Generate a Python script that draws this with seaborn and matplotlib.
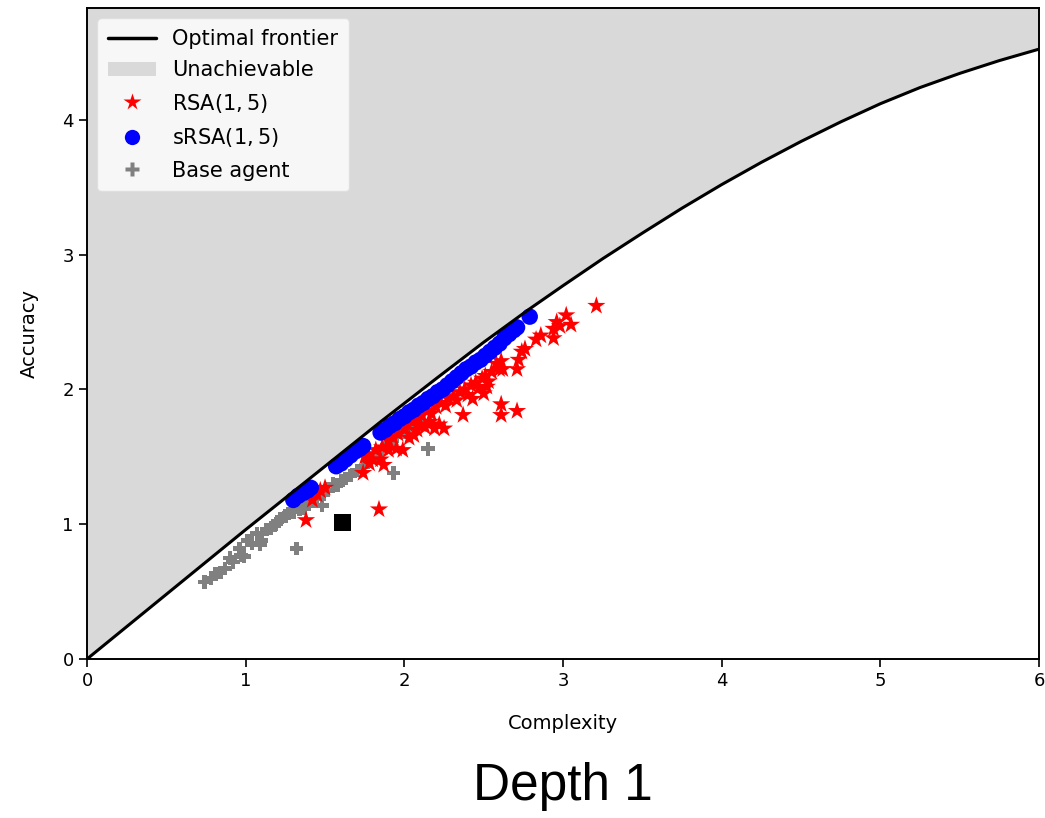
import matplotlib
matplotlib.use("Agg")
import matplotlib.pyplot as plt
import seaborn as sns
from matplotlib.lines import Line2D
from matplotlib.patches import Patch

# optimal frontier
frontier_x = [0, 0.5, 1.0, 1.5, 1.85, 2.2, 2.5, 2.78, 3.0, 3.25, 3.5, 3.75, 4.0, 4.25,
              4.5, 4.75, 5.0, 5.25, 5.5, 5.75, 6.0]
frontier_y = [0, 0.48, 0.96, 1.43, 1.76, 2.08, 2.35, 2.59, 2.77, 2.97, 3.16, 3.345, 3.52,
              3.685, 3.84, 3.985, 4.12, 4.24, 4.345, 4.44, 4.525]

# RSA(1,5)
rsa_x = [1.38, 1.42, 1.45, 1.47, 1.50, 1.74, 1.78, 1.80, 1.84, 1.85, 1.87, 1.90, 1.95, 1.99,
         2.03, 2.06, 2.08, 2.10, 2.13, 2.16, 2.19, 2.22, 2.25, 2.37, 2.61, 2.61, 2.71,
         1.75, 1.77, 1.82, 1.86, 1.90, 1.93, 1.96, 2.00, 2.02, 2.05, 2.08, 2.11, 2.14, 2.17,
         2.20, 2.23, 2.26, 2.28, 2.31, 2.33, 2.35, 2.38, 2.40, 2.42, 2.45, 2.47, 2.49, 2.51,
         2.53, 2.55, 2.50, 2.43, 2.52, 2.58, 2.60, 2.61, 2.62, 2.71, 2.72, 2.74, 2.76, 2.83,
         2.86, 2.94, 2.94, 2.96, 2.98, 3.02, 3.05, 3.21]
rsa_y = [1.03, 1.18, 1.22, 1.25, 1.27, 1.38, 1.45, 1.48, 1.11, 1.48, 1.44, 1.55, 1.56, 1.55,
         1.64, 1.66, 1.70, 1.74, 1.72, 1.76, 1.71, 1.74, 1.71, 1.81, 1.89, 1.81, 1.84,
         1.50, 1.52, 1.55, 1.57, 1.62, 1.64, 1.67, 1.70, 1.74, 1.76, 1.78, 1.81, 1.84, 1.82,
         1.87, 1.90, 1.88, 1.93, 1.95, 1.92, 1.98, 2.00, 1.96, 2.03, 2.05, 2.01, 2.08, 2.10,
         2.06, 2.13, 1.97, 1.93, 2.02, 2.19, 2.15, 2.21, 2.15, 2.15, 2.22, 2.28, 2.30, 2.37,
         2.40, 2.38, 2.45, 2.50, 2.47, 2.55, 2.48, 2.62]

# sRSA(1,5)
srsa_x = [1.30, 1.33, 1.36, 1.39, 1.41,
          1.57, 1.60, 1.63, 1.66, 1.69, 1.72, 1.74,
          1.85, 1.88, 1.91, 1.94, 1.97, 2.00, 2.03, 2.06, 2.09, 2.12, 2.15, 2.18, 2.21,
          2.24, 2.27, 2.30, 2.33, 2.36, 2.39, 2.42, 2.45, 2.48, 2.51, 2.54, 2.57, 2.60,
          2.63, 2.66, 2.69, 2.71, 2.79]
srsa_y = [1.18, 1.21, 1.23, 1.25, 1.27,
          1.43, 1.45, 1.48, 1.51, 1.54, 1.56, 1.58,
          1.68, 1.70, 1.73, 1.75, 1.78, 1.80, 1.83, 1.85, 1.88, 1.90, 1.93, 1.95, 1.98,
          2.00, 2.03, 2.06, 2.09, 2.12, 2.15, 2.17, 2.20, 2.22, 2.25, 2.28, 2.31, 2.34,
          2.38, 2.41, 2.44, 2.46, 2.54]

# Base agent
base_x = [0.74, 0.78, 0.81, 0.84, 0.87, 0.90, 0.92, 0.96, 0.97, 0.99, 1.01, 1.04, 1.07,
          1.09, 1.10, 1.13, 1.16, 1.18, 1.20, 1.22, 1.25, 1.27, 1.30, 1.32, 1.34, 1.37,
          1.40, 1.42, 1.45, 1.48, 1.49, 1.52, 1.55, 1.58, 1.60, 1.63, 1.66, 1.70, 1.74,
          1.78, 1.82, 1.86, 1.90, 1.93, 1.95, 2.00, 2.05, 2.10, 2.15]
base_y = [0.57, 0.60, 0.63, 0.64, 0.67, 0.75, 0.72, 0.82, 0.77, 0.76, 0.88, 0.86, 0.93,
          0.85, 0.88, 0.96, 0.97, 0.99, 1.02, 1.04, 1.06, 1.08, 1.09, 0.82, 1.11, 1.12,
          1.15, 1.17, 1.19, 1.14, 1.22, 1.25, 1.30, 1.29, 1.32, 1.34, 1.36, 1.40, 1.43,
          1.47, 1.50, 1.55, 1.60, 1.38, 1.65, 1.68, 1.72, 1.76, 1.56]

# black square
square_x = [1.61]
square_y = [1.01]

y_top = 4.83

sns.set_style("ticks")
plt.rcParams['font.family'] = ['DejaVu Sans']
plt.rcParams['text.color'] = 'black'
plt.rcParams['axes.labelcolor'] = 'black'

fig = plt.figure(figsize=(10.45, 8.18), dpi=100)
ax = fig.add_axes([0.0833, 0.1944, 0.9110, 0.7958])

ax.fill_between(frontier_x, frontier_y, y_top, color="#d9d9d9", lw=0, zorder=1)
sns.lineplot(x=frontier_x, y=frontier_y, color="black", lw=2.2, ax=ax, zorder=5)

sns.scatterplot(x=base_x, y=base_y, marker="P", s=95, color="gray", edgecolor="none",
                ax=ax, zorder=2)
sns.scatterplot(x=rsa_x, y=rsa_y, marker="*", s=190, color="red", edgecolor="none",
                ax=ax, zorder=3)
sns.scatterplot(x=srsa_x, y=srsa_y, marker="o", s=140, color="blue", edgecolor="none",
                ax=ax, zorder=4)
sns.scatterplot(x=square_x, y=square_y, marker="s", s=150, color="black", edgecolor="none",
                ax=ax, zorder=4)

ax.set_xlim(0, 6)
ax.set_ylim(0, y_top)
ax.set_xticks([0, 1, 2, 3, 4, 5, 6])
ax.set_yticks([0, 1, 2, 3, 4])
ax.tick_params(labelsize=13, length=6, width=1.2, color="black", labelcolor="black")
for sp in ax.spines.values():
    sp.set_color("black")
    sp.set_linewidth(1.4)
ax.set_xlabel("Complexity", fontsize=14, labelpad=17)
ax.set_ylabel("Accuracy", fontsize=14, labelpad=17)

handles = [
    Line2D([], [], color="black", lw=2.5),
    Patch(facecolor="#d9d9d9", edgecolor="none"),
    Line2D([], [], marker="*", color="red", ls="none", markersize=13, markeredgecolor="none"),
    Line2D([], [], marker="o", color="blue", ls="none", markersize=11, markeredgecolor="none"),
    Line2D([], [], marker="P", color="gray", ls="none", markersize=10, markeredgecolor="none"),
]
labels = ["Optimal frontier", "Unachievable", "RSA$(1, 5)$", "sRSA$(1, 5)$", "Base agent"]
ax.legend(handles, labels, loc="upper left", fontsize=15, frameon=True, framealpha=0.8,
          facecolor="white", edgecolor="#dddddd", handlelength=2.3, borderpad=0.5,
          labelspacing=0.55)

fig.text(0.539, 0.038, "Depth 1", ha="center", va="center", fontsize=37,
         family="Liberation Sans")

fig.savefig("out.png", dpi=100)
